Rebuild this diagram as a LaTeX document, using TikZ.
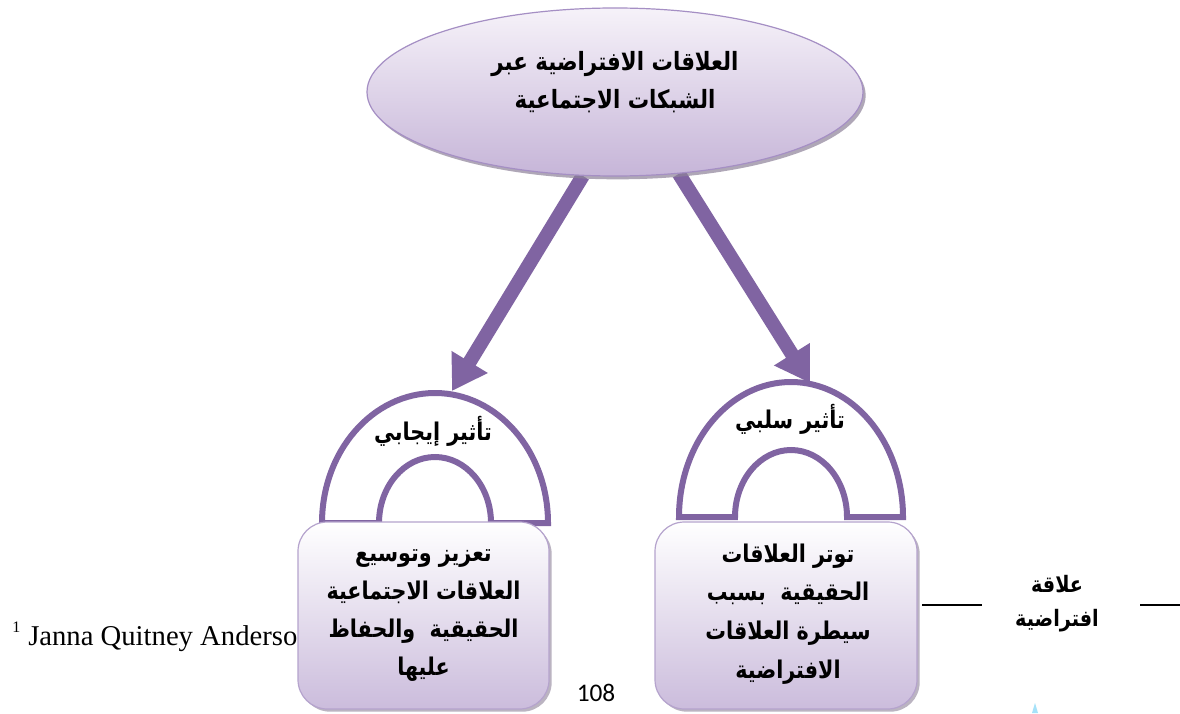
\documentclass[tikz,border=0pt]{standalone}
\usepackage{fontspec}
\usepackage{graphicx}
\usetikzlibrary{arrows.meta,shapes.geometric,shadows,backgrounds}
\TeXXeTstate=1
\newfontfamily\arabicfont[Script=Arabic]{DejaVu Sans}
\newfontfamily\serifft{Liberation Serif}
\newfontfamily\calibft{Carlito}
\newcommand\rl[1]{\scalebox{1}[1.18]{\beginR#1\endR}}
\definecolor{purp}{HTML}{8064A2}
\definecolor{elltop}{HTML}{F6F2F9}
\definecolor{ellbot}{HTML}{C6B5D8}
\definecolor{ellborder}{HTML}{A58FC4}
\definecolor{boxbot}{HTML}{CBBCDC}
\definecolor{boxborder}{HTML}{B5A3CD}
\definecolor{shadowc}{HTML}{8E8299}
\begin{document}
\begin{tikzpicture}[x=0.75pt,y=-0.75pt,
  ellnode/.style={ellipse, draw=ellborder, line width=0.9pt, top color=elltop, bottom color=ellbot,
    minimum width=372pt, minimum height=126pt, inner sep=0pt,
    drop shadow={shadow xshift=2pt, shadow yshift=-2.5pt, fill=shadowc, opacity=0.7}},
  boxnode/.style={rounded corners=22pt, draw=boxborder, line width=0.9pt, top color=white, bottom color=boxbot,
    minimum height=140.25pt, inner sep=0pt, align=center,
    font=\arabicfont\bfseries\fontsize{15.5}{28.5}\selectfont,
    drop shadow={shadow xshift=2pt, shadow yshift=-2pt, fill=shadowc, opacity=0.6}},
  artext/.style={font=\arabicfont\bfseries\fontsize{15.5}{28.5}\selectfont, align=center, inner sep=0pt},
  bigarrow/.style={draw=purp, line width=10.5pt, -{Triangle[length=25.5pt,width=30pt]}},
  archline/.style={draw=purp, line width=4.5pt, fill=white, line join=miter},
  rule/.style={draw=black, line width=1.4pt}]
\useasboundingbox (0,0) rectangle (1180,713);

% footnote text (partly covered by the box)
\node[font=\serifft\fontsize{21.5}{24}\selectfont, anchor=base west, inner sep=0pt] (fn) at (28,645) {Janna Quitney Anderso};
\node[font=\serifft\fontsize{12}{14}\selectfont, anchor=base west, inner sep=0pt] (fnmark) at (12,632) {1};

% arches
\draw[archline] (322,523) arc[start angle=180, end angle=360, x radius=113, y radius=130]
  -- (491,523) arc[start angle=0, end angle=-180, x radius=56, y radius=66] -- cycle;
\draw[archline] (679,517) arc[start angle=180, end angle=360, x radius=112, y radius=135]
  -- (847,517) arc[start angle=0, end angle=-180, x radius=56, y radius=67] -- cycle;
\coordinate (ltip) at (452,391);
\coordinate (rtip) at (810,383);
\node[artext] (pos) at (433,431) {\rl{تأثير إيجابي}};
\node[artext] (neg) at (790,419) {\rl{تأثير سلبي}};

% top ellipse
\node[ellnode] (ell) at (615,92) {};
\node[artext, font=\arabicfont\bfseries\fontsize{16}{28.5}\selectfont] (ellt) at (615,82)
  {\rl{العلاقات الافتراضية عبر}\\\rl{الشبكات الاجتماعية}};

% arrows behind the ellipse
\begin{scope}[on background layer]
  \fill[white] (0,0) rectangle (1180,713);
  \draw[bigarrow] (ell.249) -- (ltip);
  \draw[bigarrow] (ell.308) -- (rtip);
\end{scope}

% boxes
\node[boxnode, minimum width=188.25pt] (lb) at (423.5,615.5) {};
\node[artext] (lbt) at (423.5,616)
  {\rl{تعزيز وتوسيع}\\\rl{العلاقات الاجتماعية}\\\rl{الحقيقية\ \ والحفاظ}\\\rl{عليها}};
\node[boxnode, minimum width=196.5pt] (rb) at (786,615.5) {};
\node[artext, font=\arabicfont\bfseries\fontsize{15.5}{29}\selectfont] (rbt) at (788,614)
  {\rl{توتر العلاقات}\\\rl{الحقيقية\ \ بسبب}\\\rl{سيطرة العلاقات}\\\rl{الافتراضية}};

% side label
\node[font=\arabicfont\bfseries\fontsize{14.4}{25.5}\selectfont, align=center, inner sep=0pt] (rel) at (1057,604)
  {\rl{علاقة}\\\rl{افتراضية}};
\coordinate (r1a) at (922,605);
\coordinate (r1b) at (982,605);
\coordinate (r2a) at (1140,605);
\coordinate (r2b) at (1180,605);
\draw[rule] (r1a) -- (r1b);
\draw[rule] (r2a) -- (r2b);

% page number
\node[font=\calibft\fontsize{19}{22}\selectfont, inner sep=0pt] (pg) at (596,693) {108};

% small blue mark
\fill[cyan!35] (1032,713) -- (1035,703) -- (1038,713) -- cycle;
\end{tikzpicture}
\end{document}
